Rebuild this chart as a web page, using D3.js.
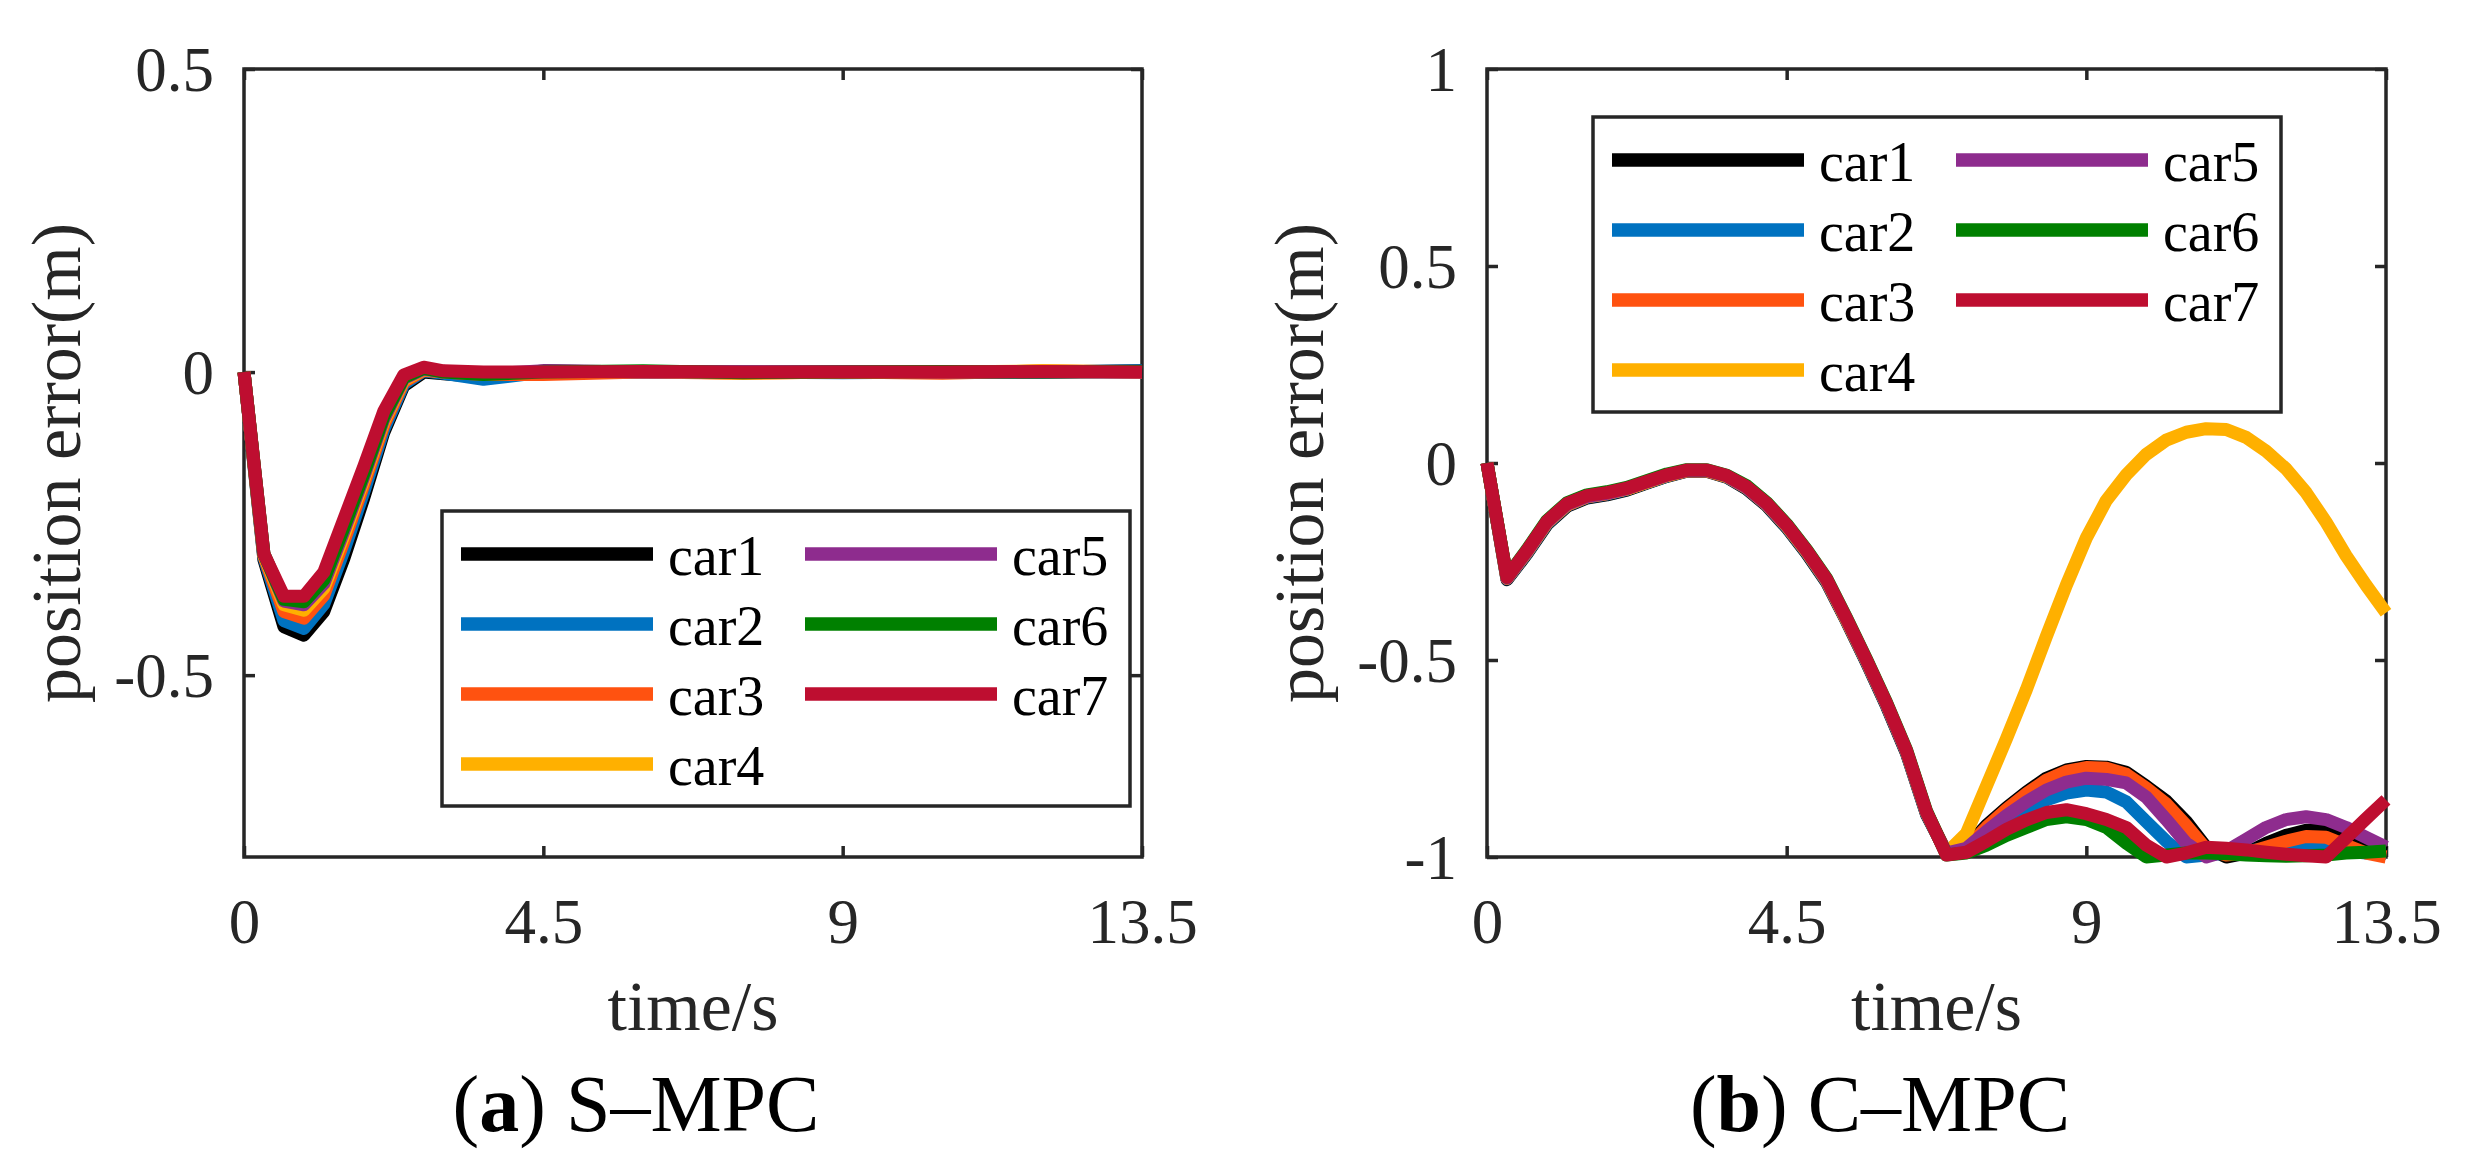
<!DOCTYPE html>
<html>
<head>
<meta charset="utf-8">
<script src="https://cdn.jsdelivr.net/npm/d3@7"></script>
<style>
  body { margin: 0; background: #fff; }
  svg { display: block; font-family: "Liberation Serif", "Times New Roman", serif; }
</style>
</head>
<body>
<div id="container"></div>
<script>
// ---- data ----
const carNames = ["car1", "car2", "car3", "car4", "car5", "car6", "car7"];
const carColors = ["#000000", "#0072C0", "#FF5210", "#FFB000", "#8E2C8E", "#008000", "#BE0E30"];

const xTicks = [0, 4.5, 9, 13.5];
const yTicksA = [-0.5, 0, 0.5];
const yTicksB = [-1, -0.5, 0, 0.5, 1];

// (a) S-MPC
const timeA = [0, 0.3, 0.6, 0.9, 1.2, 1.5, 1.8, 2.1, 2.4, 2.7, 3.0, 3.6, 4.5, 6.0, 7.5, 9.0, 10.5, 12.0, 13.5];
const car1A = [0, -0.31, -0.42, -0.434, -0.395, -0.308, -0.208, -0.1, -0.023, 0.0, -0.003, -0.008, 0.002, 0.0, 0.0, 0.0, 0.0, 0.0, 0.002];
const car2A = [0, -0.306, -0.41, -0.423, -0.383, -0.295, -0.198, -0.095, -0.02, 0.002, -0.002, -0.012, 0.0, 0.0, 0.0, -0.001, 0.0, 0.0, 0.002];
const car3A = [0, -0.304, -0.395, -0.406, -0.368, -0.28, -0.186, -0.088, -0.016, 0.003, 0.0, -0.004, -0.004, 0.0, -0.002, 0.0, -0.002, 0.002, 0.0];
const car4A = [0, -0.302, -0.384, -0.393, -0.357, -0.27, -0.178, -0.082, -0.013, 0.004, 0.0, -0.002, 0.0, 0.001, -0.002, 0.0, 0.0, 0.002, 0.0];
const car5A = [0, -0.3, -0.378, -0.384, -0.349, -0.263, -0.173, -0.078, -0.011, 0.005, 0.0, -0.003, 0.002, 0.0, 0.0, 0.001, 0.0, 0.0, 0.0];
const car6A = [0, -0.3, -0.375, -0.379, -0.343, -0.257, -0.168, -0.074, -0.009, 0.006, 0.0, -0.004, 0.0, 0.002, -0.001, 0.0, 0.001, 0.0, 0.001];
const car7A = [0, -0.3, -0.37, -0.37, -0.33, -0.243, -0.156, -0.065, -0.005, 0.008, 0.002, 0.0, 0.0, 0.001, 0.0, 0.0, 0.0, 0.001, 0.0];

// (b) C-MPC
const timeB = [0, 0.3, 0.6, 0.9, 1.2, 1.5, 1.8, 2.1, 2.4, 2.7, 3.0, 3.3, 3.6, 3.9, 4.2, 4.5, 4.8, 5.1, 5.4, 5.7,
  6.0, 6.3, 6.6, 6.9, 7.2, 7.5, 7.8, 8.1, 8.4, 8.7, 9.0, 9.3, 9.6, 9.9, 10.2, 10.5, 10.8, 11.1, 11.4, 11.7,
  12.0, 12.3, 12.6, 12.9, 13.2, 13.5];
const car1B = [0, -0.296, -0.23, -0.156, -0.11, -0.089, -0.081, -0.069, -0.051, -0.034, -0.021, -0.021, -0.036, -0.066, -0.108, -0.164, -0.229, -0.303, -0.402, -0.507, -0.617, -0.737, -0.892,
  -0.99, -0.975, -0.92, -0.875, -0.835, -0.8, -0.779, -0.77, -0.772, -0.785, -0.82, -0.858, -0.91, -0.975, -1.0, -0.99, -0.965, -0.945, -0.932, -0.932, -0.95, -0.975, -0.99];
const car2B = [0, -0.294, -0.228, -0.154, -0.108, -0.087, -0.079, -0.067, -0.05, -0.033, -0.02, -0.02, -0.035, -0.064, -0.106, -0.162, -0.227, -0.301, -0.4, -0.505, -0.615, -0.735, -0.89,
  -0.99, -0.98, -0.945, -0.91, -0.88, -0.855, -0.838, -0.83, -0.835, -0.86, -0.91, -0.96, -1.0, -0.995, -0.99, -0.985, -0.98, -0.978, -0.975, -0.978, -0.985, -0.99, -0.99];
const car3B = [0, -0.293, -0.226, -0.152, -0.107, -0.086, -0.078, -0.066, -0.049, -0.032, -0.02, -0.02, -0.034, -0.063, -0.105, -0.16, -0.225, -0.299, -0.399, -0.503, -0.613, -0.733, -0.888,
  -0.99, -0.977, -0.925, -0.88, -0.84, -0.805, -0.783, -0.773, -0.775, -0.79, -0.825, -0.865, -0.92, -0.98, -0.995, -0.99, -0.975, -0.96, -0.948, -0.95, -0.97, -0.99, -1.0];
const car4B = [0, -0.292, -0.225, -0.151, -0.106, -0.085, -0.077, -0.066, -0.049, -0.032, -0.019, -0.019, -0.034, -0.062, -0.104, -0.159, -0.224, -0.298, -0.398, -0.502, -0.612, -0.732, -0.887,
  -0.99, -0.94, -0.82, -0.7, -0.575, -0.44, -0.31, -0.19, -0.095, -0.03, 0.022, 0.058, 0.078, 0.087, 0.085, 0.065, 0.03, -0.015, -0.075, -0.15, -0.235, -0.31, -0.38];
const car5B = [0, -0.292, -0.224, -0.15, -0.105, -0.085, -0.077, -0.065, -0.048, -0.031, -0.019, -0.019, -0.033, -0.062, -0.104, -0.158, -0.223, -0.297, -0.397, -0.502, -0.612, -0.732, -0.887,
  -0.99, -0.978, -0.935, -0.895, -0.86, -0.83, -0.81, -0.8, -0.803, -0.812, -0.848, -0.905, -0.965, -1.0, -0.985, -0.955, -0.925, -0.905, -0.898, -0.905, -0.925, -0.95, -0.975];
const car6B = [0, -0.289, -0.22, -0.146, -0.101, -0.081, -0.073, -0.062, -0.045, -0.028, -0.017, -0.017, -0.031, -0.058, -0.1, -0.155, -0.22, -0.293, -0.393, -0.498, -0.608, -0.728, -0.883,
  -0.995, -0.99, -0.97, -0.945, -0.925, -0.905, -0.898, -0.905, -0.925, -0.965, -1.0, -0.995, -0.99, -0.99, -0.992, -0.995, -0.997, -0.998, -0.997, -0.995, -0.99, -0.988, -0.985];
const car7B = [0, -0.29, -0.222, -0.148, -0.103, -0.083, -0.075, -0.064, -0.047, -0.03, -0.018, -0.018, -0.032, -0.06, -0.102, -0.157, -0.222, -0.295, -0.395, -0.5, -0.61, -0.73, -0.885,
  -0.995, -0.988, -0.96, -0.93, -0.906, -0.887, -0.88, -0.89, -0.905, -0.925, -0.97, -1.0, -0.99, -0.975, -0.978, -0.982, -0.988, -0.993, -0.997, -1.0, -0.952, -0.903, -0.855];

document.addEventListener("DOMContentLoaded", function () {
  const w = 2465;
  const h = 1171;
  const ink = "#262626";
  const font = "\"Liberation Serif\", \"Times New Roman\", serif";

  const svg = d3
    .select("#container")
    .append("svg")
    .attr("width", w)
    .attr("height", h);

  svg.append("rect").attr("width", w).attr("height", h).attr("fill", "#fff");

  const drawPanel = function (cfg, time, series) {
    const x = d3.scaleLinear().domain([0, 13.5]).range([0, cfg.w]);
    const y = d3.scaleLinear().domain(cfg.yDomain).range([cfg.h, 0]);

    const g = svg
      .append("g")
      .attr("transform", `translate(${cfg.x},${cfg.y})`);

    const fmt = (d) => String(d);
    const styleAxis = (sel) => {
      sel.select(".domain").remove();
      sel.selectAll(".tick line").attr("stroke", ink).attr("stroke-width", 3.5);
      sel
        .selectAll(".tick text")
        .attr("fill", ink)
        .style("font-family", font)
        .style("font-size", "63px");
    };

    g.append("g")
      .attr("transform", `translate(0,${cfg.h})`)
      .call(
        d3.axisBottom(x).tickValues(xTicks).tickSizeInner(-11).tickSizeOuter(0).tickFormat(fmt)
      )
      .call(styleAxis)
      .call((s) => s.selectAll(".tick text").attr("y", 86).attr("dy", null));

    g.append("g")
      .call(
        d3.axisTop(x).tickValues(xTicks).tickSizeInner(-11).tickSizeOuter(0).tickFormat("")
      )
      .call(styleAxis);

    g.append("g")
      .call(
        d3
          .axisLeft(y)
          .tickValues(cfg.yTicks)
          .tickSizeInner(-11)
          .tickSizeOuter(0)
          .tickPadding(30)
          .tickFormat(fmt)
      )
      .call(styleAxis)
      .call((s) => s.selectAll(".tick text").attr("dy", "0.34em"));

    g.append("g")
      .attr("transform", `translate(${cfg.w},0)`)
      .call(
        d3.axisRight(y).tickValues(cfg.yTicks).tickSizeInner(-11).tickSizeOuter(0).tickFormat("")
      )
      .call(styleAxis);

    g.append("rect")
      .attr("width", cfg.w)
      .attr("height", cfg.h)
      .attr("fill", "none")
      .attr("stroke", ink)
      .attr("stroke-width", 3.5);

    // data lines, car1 first so car7 ends up on top
    const line = d3
      .line()
      .x((d, i) => x(time[i]))
      .y((d) => y(d));

    g.selectAll("path.car")
      .data(series)
      .enter()
      .append("path")
      .attr("class", "car")
      .attr("d", (d) => line(d))
      .attr("fill", "none")
      .attr("stroke", (d, i) => carColors[i])
      .attr("stroke-width", 13)
      .attr("stroke-linejoin", "round")
      .attr("stroke-linecap", "butt");

    // axis titles
    g.append("text")
      .attr("x", cfg.w / 2)
      .attr("y", 961)
      .attr("text-anchor", "middle")
      .attr("fill", ink)
      .style("font-size", "70px")
      .text("time/s");

    g.append("text")
      .attr("transform", `translate(-164,${cfg.h / 2}) rotate(-90)`)
      .attr("text-anchor", "middle")
      .attr("fill", ink)
      .style("font-size", "70px")
      .text("position error(m)");

    // legend
    const lg = g
      .append("g")
      .attr("transform", `translate(${cfg.legend.x},${cfg.legend.y})`);

    lg.append("rect")
      .attr("width", 688)
      .attr("height", 295)
      .attr("fill", "#fff")
      .attr("stroke", ink)
      .attr("stroke-width", 3.5);

    const items = lg
      .selectAll("g.item")
      .data(carNames)
      .enter()
      .append("g")
      .attr("class", "item")
      .attr("transform", (d, i) => {
        const col = i < 4 ? 0 : 1;
        const row = i < 4 ? i : i - 4;
        return `translate(${19 + col * 344},${43 + row * 70})`;
      });

    items
      .append("line")
      .attr("x1", 0)
      .attr("x2", 192)
      .attr("stroke", (d, i) => carColors[i])
      .attr("stroke-width", 13.5);

    items
      .append("text")
      .attr("x", 207)
      .attr("y", 21)
      .attr("fill", "#000")
      .style("font-size", "56px")
      .text((d) => d);

    // caption under the panel
    const cap = svg
      .append("text")
      .attr("x", cfg.caption.x)
      .attr("y", 1131)
      .attr("text-anchor", "middle")
      .attr("fill", "#000")
      .style("font-size", "80px");
    cap.append("tspan").text("(");
    cap.append("tspan").attr("font-weight", "bold").text(cfg.caption.tag);
    cap.append("tspan").text(") " + cfg.caption.text);
  };

  drawPanel(
    {
      x: 244,
      y: 69,
      w: 898,
      h: 788,
      yDomain: [-0.8, 0.5],
      yTicks: yTicksA,
      legend: { x: 198, y: 442 },
      caption: { x: 636, tag: "a", text: "S\u2013MPC" }
    },
    timeA,
    [car1A, car2A, car3A, car4A, car5A, car6A, car7A]
  );

  drawPanel(
    {
      x: 1487,
      y: 69,
      w: 899,
      h: 788,
      yDomain: [-1, 1],
      yTicks: yTicksB,
      legend: { x: 106, y: 48 },
      caption: { x: 1880, tag: "b", text: "C\u2013MPC" }
    },
    timeB,
    [car1B, car2B, car3B, car4B, car5B, car6B, car7B]
  );
});
</script>
</body>
</html>
